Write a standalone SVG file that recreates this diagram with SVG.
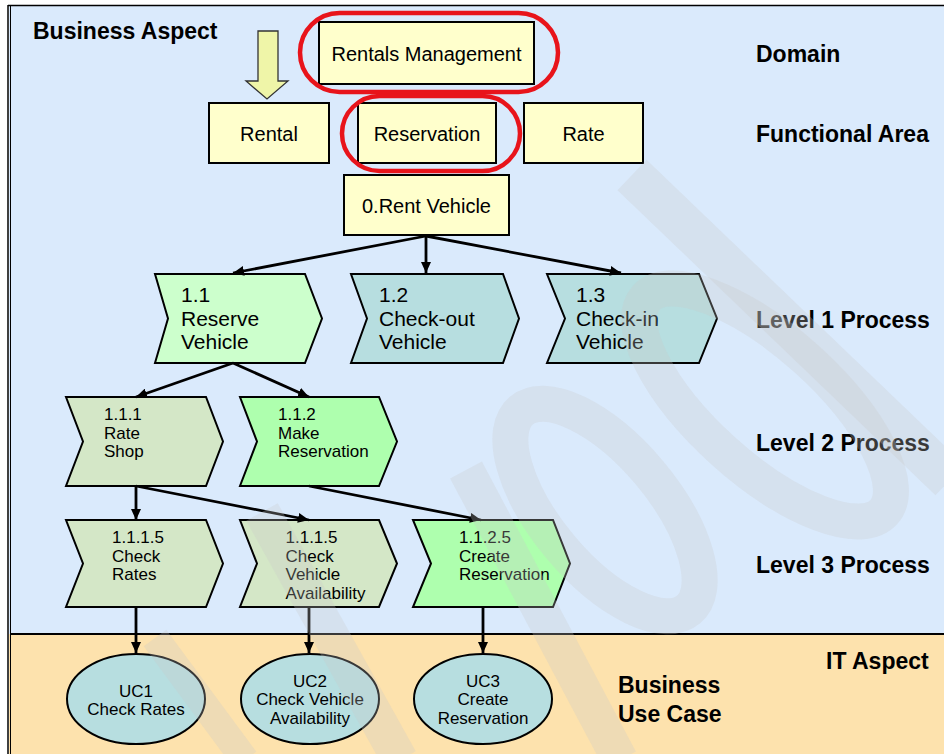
<svg xmlns="http://www.w3.org/2000/svg" width="944" height="754" viewBox="0 0 944 754">
<defs>
<marker id="ah" markerUnits="userSpaceOnUse" markerWidth="12" markerHeight="10" refX="11" refY="5" orient="auto"><path d="M0,0 L11,5 L0,10 Z" fill="#000"/></marker>
</defs>
<style>
.box{fill:#FFFFCC;stroke:#000;stroke-width:2}
.ring{fill:none;stroke:#E8141B;stroke-width:4.5}
.t{font-family:"Liberation Sans",Arial,sans-serif;fill:#000}
.lb{font-weight:bold;font-size:23px}
.bt{font-size:20px;text-anchor:middle}
.c1{font-size:21px}
.c2{font-size:17px}
.ov{font-size:17px;text-anchor:middle}
.chv{stroke:#000;stroke-width:2}
.teal{fill:#B7DEE0}
.pale{fill:#CCFFCC}
.sage{fill:#D4E7C7}
.mint{fill:#AEFFAE}
.uc{fill:#B7DEE0;stroke:#000;stroke-width:2}
.cn line{stroke:#000;stroke-width:2.8;marker-end:url(#ah)}
.wm{fill:none;stroke:#CACACA;stroke-opacity:0.28}
</style>
<rect x="0" y="0" width="944" height="754" fill="#FFFFFF"/>
<rect x="9" y="6" width="935" height="628" fill="#DAEAFC"/>
<rect x="9" y="634" width="935" height="120" fill="#FDE2AD"/>
<line x1="8" y1="5.5" x2="944" y2="5.5" stroke="#000" stroke-width="1.5"/>
<line x1="8" y1="5" x2="8" y2="754" stroke="#000" stroke-width="1.5"/>
<line x1="10.5" y1="6" x2="10.5" y2="754" stroke="#000" stroke-width="1"/>
<line x1="10" y1="634" x2="944" y2="634" stroke="#000" stroke-width="2"/>

<g id="labels">
<text class="t lb" x="33" y="39">Business Aspect</text>
<text class="t lb" x="756" y="62">Domain</text>
<text class="t lb" x="756" y="142">Functional Area</text>
<text class="t lb" x="756" y="328">Level 1 Process</text>
<text class="t lb" x="756" y="451">Level 2 Process</text>
<text class="t lb" x="756" y="573">Level 3 Process</text>
<text class="t lb" x="826" y="669">IT Aspect</text>
<text class="t lb" x="618" y="693">Business</text>
<text class="t lb" x="618" y="722">Use Case</text>
</g>

<g id="drill-arrow">
<path d="M258,31 H278 V81 H288 L267,99 L246,81 H258 Z" fill="#EFF5A8" stroke="#333" stroke-width="1.3"/>
</g>

<g id="rentals-management">
<rect class="box" x="319" y="22" width="215" height="62"/>
<text class="t bt" x="426.5" y="61">Rentals Management</text>
<rect class="ring" x="300" y="13" width="258" height="79" rx="39.5"/>
</g>
<g id="rental">
<rect class="box" x="209" y="103" width="120" height="60"/>
<text class="t bt" x="269" y="141">Rental</text>
</g>
<g id="reservation">
<rect class="box" x="358" y="103" width="138" height="60"/>
<text class="t bt" x="427" y="141">Reservation</text>
<rect class="ring" x="342" y="96" width="178" height="75" rx="37.5"/>
</g>
<g id="rate">
<rect class="box" x="524" y="103" width="119" height="60"/>
<text class="t bt" x="583.5" y="141">Rate</text>
</g>
<g id="rent-vehicle">
<rect class="box" x="344" y="175" width="165" height="60"/>
<text class="t bt" x="426.5" y="213">0.Rent Vehicle</text>
</g>

<g id="p1-1">
<path class="chv pale" d="M155,274 H305 L322,318.5 L305,363 H155 L168,318.5 Z"/>
<text class="t c1" x="181" y="302">1.1</text>
<text class="t c1" x="181" y="326">Reserve</text>
<text class="t c1" x="181" y="349">Vehicle</text>
</g>
<g id="p1-2">
<path class="chv teal" d="M351,274 H503 L519,318.5 L503,363 H351 L367,318.5 Z"/>
<text class="t c1" x="379" y="302">1.2</text>
<text class="t c1" x="379" y="326">Check-out</text>
<text class="t c1" x="379" y="349">Vehicle</text>
</g>
<g id="p1-3">
<path class="chv teal" d="M547,274 H699 L717,318.5 L699,363 H547 L565,318.5 Z"/>
<text class="t c1" x="576" y="302">1.3</text>
<text class="t c1" x="576" y="326">Check-in</text>
<text class="t c1" x="576" y="349">Vehicle</text>
</g>

<g id="p1-1-1">
<path class="chv sage" d="M66,397 H206 L223,441.5 L206,486 H66 L83,441.5 Z"/>
<text class="t c2" x="104" y="420">1.1.1</text>
<text class="t c2" x="104" y="438.5">Rate</text>
<text class="t c2" x="104" y="457">Shop</text>
</g>
<g id="p1-1-2">
<path class="chv mint" d="M240,397 H379 L397,441.5 L379,486 H240 L257,441.5 Z"/>
<text class="t c2" x="278" y="420">1.1.2</text>
<text class="t c2" x="278" y="438.5">Make</text>
<text class="t c2" x="278" y="457">Reservation</text>
</g>

<g id="p1-1-1-5a">
<path class="chv sage" d="M66,520 H206 L223,563.5 L206,607 H66 L83,563.5 Z"/>
<text class="t c2" x="112" y="543">1.1.1.5</text>
<text class="t c2" x="112" y="561.5">Check</text>
<text class="t c2" x="112" y="580">Rates</text>
</g>
<g id="p1-1-1-5b">
<path class="chv sage" d="M240,520 H379 L397,563.5 L379,607 H240 L257,563.5 Z"/>
<text class="t c2" x="285.5" y="543">1.1.1.5</text>
<text class="t c2" x="285.5" y="561.5">Check</text>
<text class="t c2" x="285.5" y="580">Vehicle</text>
<text class="t c2" x="285.5" y="598.5">Availability</text>
</g>
<g id="p1-1-2-5">
<path class="chv mint" d="M413,520 H553 L570,563.5 L553,607 H413 L431,563.5 Z"/>
<text class="t c2" x="459" y="543">1.1.2.5</text>
<text class="t c2" x="459" y="561.5">Create</text>
<text class="t c2" x="459" y="580">Reservation</text>
</g>

<g id="uc1">
<ellipse class="uc" cx="136" cy="699" rx="69" ry="45"/>
<text class="t ov" x="136" y="697">UC1</text>
<text class="t ov" x="136" y="715">Check Rates</text>
</g>
<g id="uc2">
<ellipse class="uc" cx="310" cy="699" rx="69" ry="45"/>
<text class="t ov" x="310" y="687">UC2</text>
<text class="t ov" x="310" y="705">Check Vehicle</text>
<text class="t ov" x="310" y="724">Availability</text>
</g>
<g id="uc3">
<ellipse class="uc" cx="483" cy="699" rx="69" ry="45"/>
<text class="t ov" x="483" y="687">UC3</text>
<text class="t ov" x="483" y="705">Create</text>
<text class="t ov" x="483" y="724">Reservation</text>
</g>

<g id="connectors" class="cn">
<line x1="426" y1="236" x2="233" y2="273"/>
<line x1="426" y1="236" x2="426" y2="273"/>
<line x1="426" y1="236" x2="621" y2="273"/>
<line x1="233" y1="363" x2="136" y2="397"/>
<line x1="233" y1="363" x2="309" y2="397"/>
<line x1="136" y1="486" x2="136" y2="520"/>
<line x1="136" y1="486" x2="309" y2="520"/>
<line x1="309" y1="486" x2="481" y2="520"/>
<line x1="136" y1="607" x2="136" y2="653"/>
<line x1="309" y1="607" x2="309" y2="653"/>
<line x1="483" y1="607" x2="483" y2="653"/>
</g>

<g id="watermark">
<line class="wm" x1="155" y1="638" x2="245" y2="760" stroke-width="28"/>
<line class="wm" x1="262" y1="512" x2="400" y2="760" stroke-width="36"/>
<line class="wm" x1="466" y1="470" x2="620" y2="760" stroke-width="36"/>
<line class="wm" x1="632" y1="175" x2="950" y2="480" stroke-width="42"/>
<ellipse class="wm" cx="765" cy="405" rx="160" ry="62" transform="rotate(42 765 405)" stroke-width="36"/>
<ellipse class="wm" cx="605" cy="510" rx="130" ry="58" transform="rotate(50 605 510)" stroke-width="36"/>
</g>
</svg>
